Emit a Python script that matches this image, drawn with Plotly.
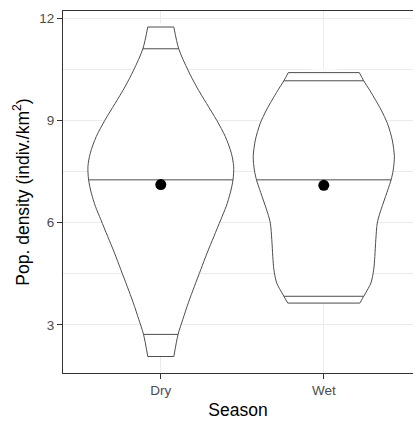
import numpy as np
import plotly.graph_objects as go

# ---- data ----
seasons = ["Dry", "Wet"]
positions = [1, 2]

# violin outlines: density levels (y) and half-widths (x-axis units)
dry_y = [2.07, 2.72, 3.16, 3.65, 4.13, 4.62, 5.11, 5.60, 6.09, 6.48, 6.87, 7.26, 7.65,
         8.04, 8.53, 9.01, 9.50, 9.99, 10.48, 11.11, 11.75]
dry_hw = [0.080, 0.106, 0.135, 0.169, 0.206, 0.245, 0.284, 0.326, 0.368, 0.401, 0.426, 0.443, 0.447,
          0.433, 0.396, 0.343, 0.281, 0.220, 0.167, 0.110, 0.080]

wet_y = [3.64, 3.84, 3.94, 4.23, 4.62, 5.01, 5.50, 5.99, 6.28, 6.58, 6.97, 7.26, 7.55, 7.94,
         8.43, 8.92, 9.31, 9.60, 9.89, 10.17, 10.41]
wet_hw = [0.221, 0.245, 0.257, 0.289, 0.306, 0.313, 0.319, 0.328, 0.344, 0.365, 0.393, 0.413, 0.426, 0.433,
          0.420, 0.390, 0.352, 0.318, 0.282, 0.245, 0.218]

# quantile lines (5%, 50%, 95%)
dry_q = [2.72, 7.26, 11.11]
wet_q = [3.84, 7.26, 10.17]

# means
means = [7.12, 7.10]

y_ticks = [3, 6, 9, 12]
y_minor = [4.5, 7.5, 10.5]

LINE = "#4d4d4d"
GRID = "#ebebeb"
FONT = "Liberation Sans, Arial, sans-serif"

fig = go.Figure()

profiles = [(dry_y, dry_hw, dry_q), (wet_y, wet_hw, wet_q)]
for pos, (ys, hws, qs) in zip(positions, profiles):
    ys = np.array(ys)
    hws = np.array(hws)
    # white fill (no outline)
    xs = np.concatenate([pos + hws, (pos - hws)[::-1]])
    yy = np.concatenate([ys, ys[::-1]])
    fig.add_trace(go.Scatter(
        x=xs, y=yy, mode="lines", fill="toself", fillcolor="white",
        line=dict(width=0, color="rgba(0,0,0,0)", shape="spline", smoothing=0.8),
        hoverinfo="skip", showlegend=False))
    # smooth side outlines
    for sgn in (1, -1):
        fig.add_trace(go.Scatter(
            x=pos + sgn * hws, y=ys, mode="lines",
            line=dict(color=LINE, width=1, shape="spline", smoothing=0.8),
            hoverinfo="skip", showlegend=False))
    # trimmed ends
    for k in (0, -1):
        fig.add_trace(go.Scatter(
            x=[pos - hws[k], pos + hws[k]], y=[ys[k], ys[k]], mode="lines",
            line=dict(color=LINE, width=1), hoverinfo="skip", showlegend=False))
    # quantile lines
    for q in qs:
        w = float(np.interp(q, ys, hws))
        fig.add_trace(go.Scatter(
            x=[pos - w, pos + w], y=[q, q], mode="lines",
            line=dict(color=LINE, width=1), hoverinfo="skip", showlegend=False))

fig.add_trace(go.Scatter(
    x=positions, y=means, mode="markers",
    marker=dict(color="black", size=11), showlegend=False))

fig.update_layout(
    width=413, height=421,
    margin=dict(l=63, r=0, t=11, b=48),
    paper_bgcolor="white", plot_bgcolor="white",
    font=dict(family=FONT, color="#4d4d4d", size=13.5),
    xaxis=dict(
        range=[0.4, 0.4 + (413 - 63) / 163.0],
        tickvals=positions, ticktext=seasons,
        showgrid=True, gridcolor=GRID, gridwidth=1,
        zeroline=False,
        showline=True, linecolor="#333333", linewidth=1, mirror=True,
        ticks="outside", ticklen=5, tickwidth=1, tickcolor="#333333",
        tickfont=dict(size=13.5, color="#4d4d4d"),
        title=dict(text="Season", font=dict(size=17.5, color="black"), standoff=6),
    ),
    yaxis=dict(
        range=[1.586, 12.22],
        tickvals=y_ticks,
        showgrid=True, gridcolor=GRID, gridwidth=1,
        minor=dict(tickvals=y_minor, showgrid=True, gridcolor=GRID, gridwidth=0.6, ticks=""),
        zeroline=False,
        showline=True, linecolor="#333333", linewidth=1, mirror=False,
        ticks="outside", ticklen=5, tickwidth=1, tickcolor="#333333",
        tickfont=dict(size=13.5, color="#4d4d4d"),
        title=dict(text="Pop. density (indiv./km<sup>2</sup>)", font=dict(size=17.5, color="black"), standoff=5),
    ),
)

fig.write_html("out.html")
